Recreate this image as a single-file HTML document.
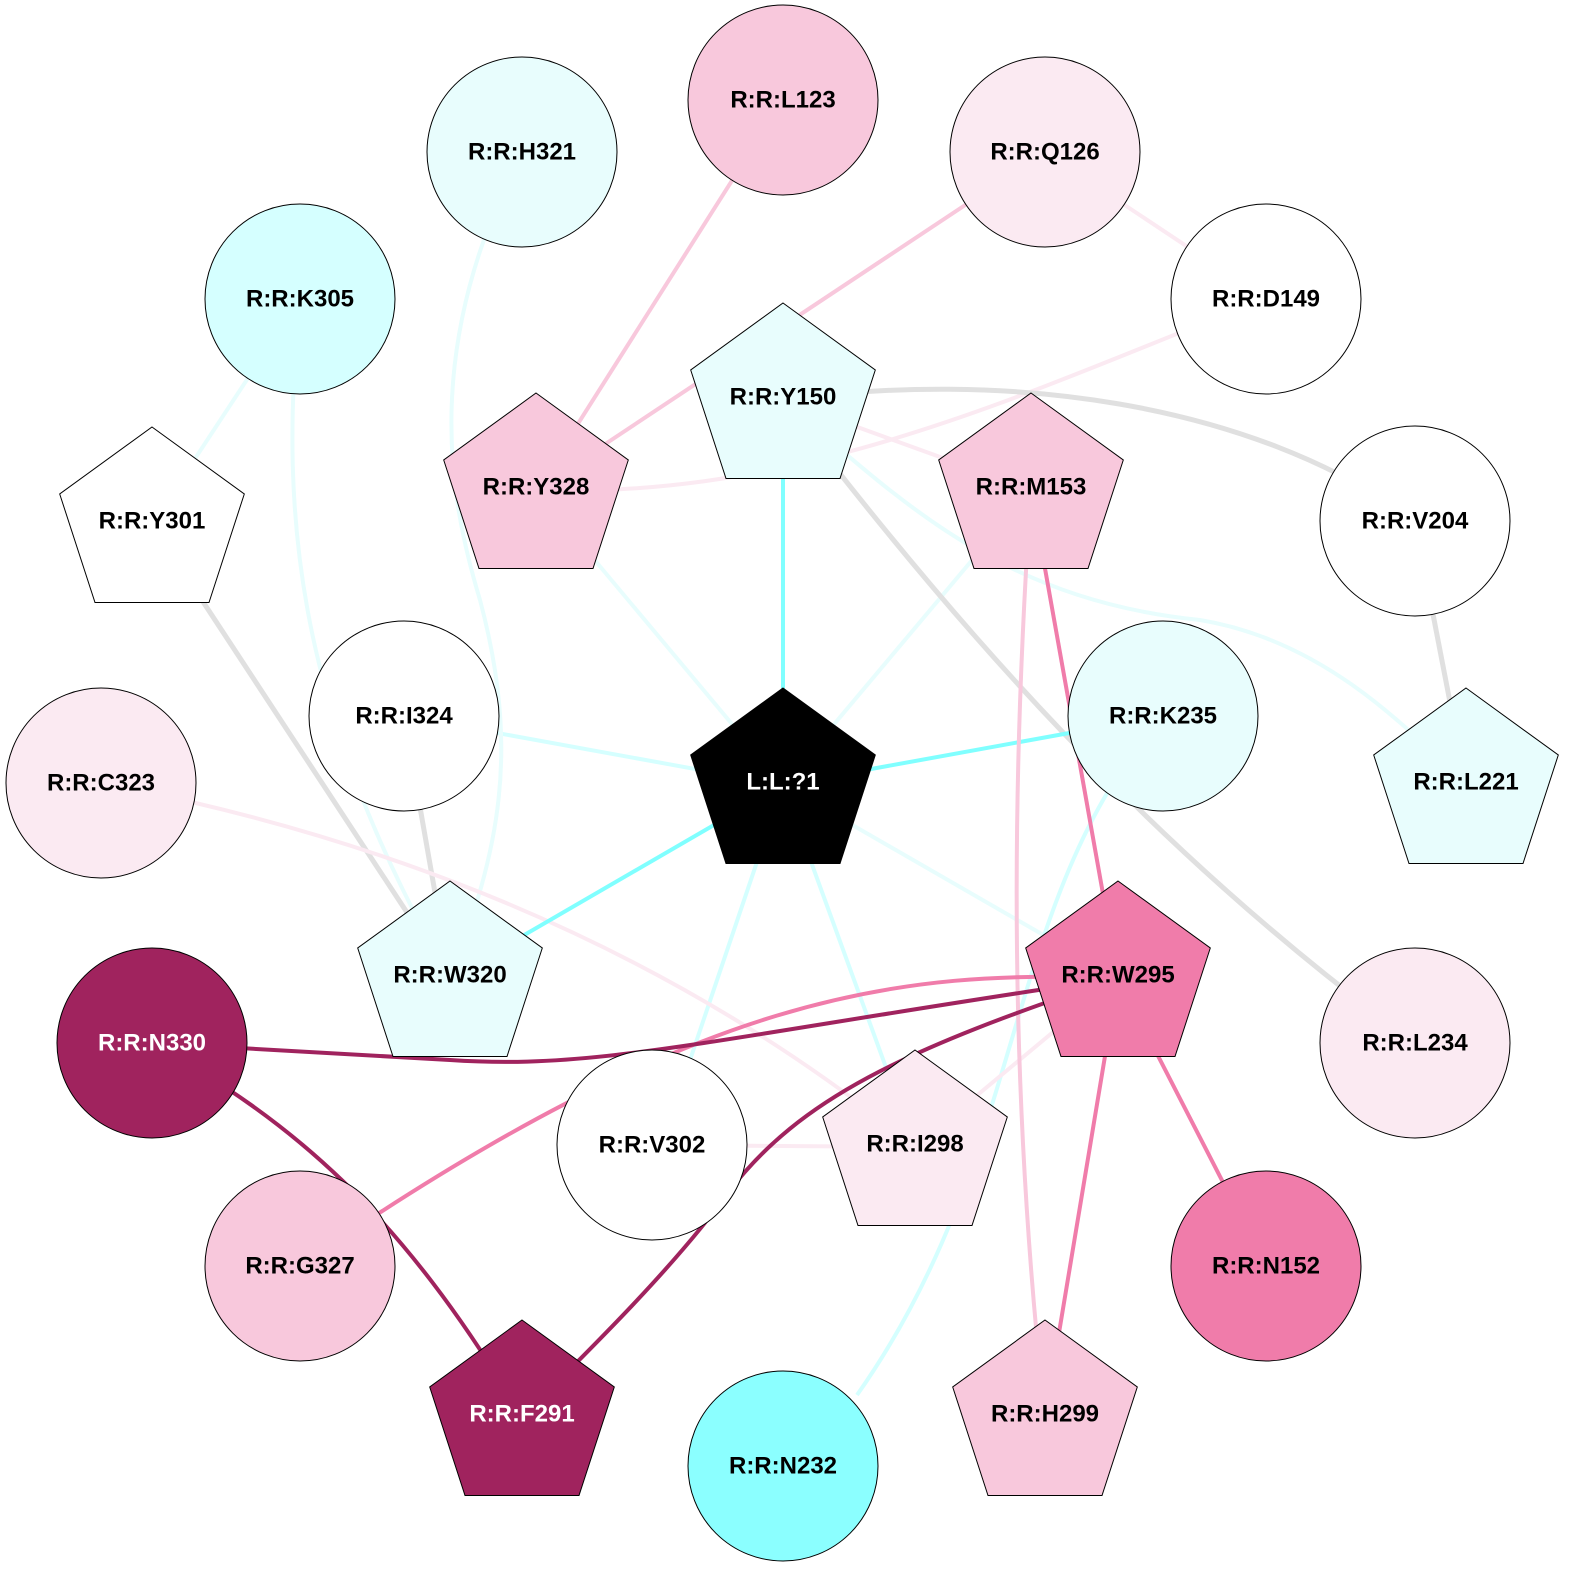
<!DOCTYPE html>
<html><head><meta charset="utf-8"><style>
html,body{margin:0;padding:0;background:#fff}
svg{display:block}
text{font-family:"Liberation Sans",Arial,sans-serif;font-weight:bold;font-size:24px;text-anchor:middle;dominant-baseline:central}
</style></head><body>
<svg width="1574" height="1574" viewBox="0 0 1574 1574" xmlns="http://www.w3.org/2000/svg">
<g fill="none" stroke-linecap="butt">
<path d="M783,785 L404,716" stroke="#d5ffff" stroke-width="4"/>
<path d="M783,785 L536,490" stroke="#e8fdfd" stroke-width="4"/>
<path d="M783,785 L1031,490" stroke="#e8fdfd" stroke-width="4"/>
<path d="M783,785 L1118,978" stroke="#e8fdfd" stroke-width="4"/>
<path d="M783,785 L690,1060" stroke="#d5ffff" stroke-width="4"/>
<path d="M783,785 L915,1147" stroke="#d5ffff" stroke-width="4"/>
<path d="M1045,152 L1266,299" stroke="#fbeaf2" stroke-width="4"/>
<path d="M1266,299 C1050,380 820,500 536,490" stroke="#fbeaf2" stroke-width="4"/>
<path d="M783,400 C1000,370 1250,400 1415,521" stroke="#e0e0e0" stroke-width="5"/>
<path d="M783,400 L1031,490" stroke="#fbeaf2" stroke-width="4"/>
<path d="M783,400 C950,620 1150,850 1415,1043" stroke="#e0e0e0" stroke-width="5"/>
<path d="M783,400 C900,500 1000,600 1200,620 C1320,640 1400,720 1466,785" stroke="#e8fdfd" stroke-width="4"/>
<path d="M1415,521 L1466,785" stroke="#e0e0e0" stroke-width="5"/>
<path d="M522,152 C420,350 450,500 480,600 C520,750 500,850 450,978" stroke="#e8fdfd" stroke-width="4"/>
<path d="M300,299 L152,524" stroke="#e8fdfd" stroke-width="4"/>
<path d="M300,299 C280,500 290,700 450,978" stroke="#e8fdfd" stroke-width="4"/>
<path d="M152,524 L450,978" stroke="#e0e0e0" stroke-width="5"/>
<path d="M404,716 L450,978" stroke="#e0e0e0" stroke-width="5"/>
<path d="M101,783 C350,830 650,930 915,1147" stroke="#fbeaf2" stroke-width="4"/>
<path d="M1163,716 C1000,900 1030,1150 857,1395" stroke="#d5ffff" stroke-width="4"/>
<path d="M1118,978 L915,1147" stroke="#fbeaf2" stroke-width="4"/>
<path d="M652,1145 L915,1147" stroke="#fbeaf2" stroke-width="4"/>
<path d="M783,400 L783,785" stroke="#80ffff" stroke-width="4"/>
<path d="M783,785 L1163,716" stroke="#80ffff" stroke-width="4"/>
<path d="M783,785 L450,978" stroke="#80ffff" stroke-width="4"/>
<path d="M783,100 L536,490" stroke="#f8c8dc" stroke-width="4"/>
<path d="M1045,152 L536,490" stroke="#f8c8dc" stroke-width="4"/>
<path d="M1031,490 C1010,800 1010,1100 1045,1417" stroke="#f8c8dc" stroke-width="4"/>
<path d="M1031,490 L1118,978" stroke="#f07caa" stroke-width="4"/>
<path d="M1118,978 C900,970 700,990 300,1266" stroke="#f07caa" stroke-width="4"/>
<path d="M1118,978 L1266,1266" stroke="#f07caa" stroke-width="4"/>
<path d="M1118,978 L1045,1417" stroke="#f07caa" stroke-width="4"/>
<path d="M1118,978 C700,1040 600,1070 450,1060 L152,1043" stroke="#a0235e" stroke-width="4"/>
<path d="M1118,978 C900,1050 800,1100 730,1190 C680,1260 600,1340 522,1417" stroke="#a0235e" stroke-width="4"/>
<path d="M152,1043 C290,1120 400,1210 522,1417" stroke="#a0235e" stroke-width="4"/>
</g>
<g stroke="#000" stroke-width="1">
<circle cx="522" cy="152" r="95" fill="#e8fdfd"/>
<circle cx="783" cy="100" r="95" fill="#f8c8dc"/>
<circle cx="1045" cy="152" r="95" fill="#fbeaf2"/>
<circle cx="1266" cy="299" r="95" fill="#fff"/>
<circle cx="300" cy="299" r="95" fill="#d5ffff"/>
<circle cx="1415" cy="521" r="95" fill="#fff"/>
<circle cx="404" cy="716" r="95" fill="#fff"/>
<circle cx="1163" cy="716" r="95" fill="#e8fdfd"/>
<circle cx="101" cy="783" r="95" fill="#fbeaf2"/>
<circle cx="1415" cy="1043" r="95" fill="#fbeaf2"/>
<circle cx="152" cy="1043" r="95" fill="#a0235e"/>
<circle cx="652" cy="1145" r="95" fill="#fff"/>
<circle cx="300" cy="1266" r="95" fill="#f8c8dc"/>
<circle cx="1266" cy="1266" r="95" fill="#f07caa"/>
<circle cx="783" cy="1466" r="95" fill="#8bffff"/>
</g>
<defs><polygon id="pg" points="0,-97 92.3,-30 57,78.5 -57,78.5 -92.3,-30"/></defs>
<g stroke="#000" stroke-width="1">
<use href="#pg" x="783" y="400" fill="#e8fdfd"/>
<use href="#pg" x="536" y="490" fill="#f8c8dc"/>
<use href="#pg" x="1031" y="490" fill="#f8c8dc"/>
<use href="#pg" x="152" y="524" fill="#fff"/>
<use href="#pg" x="1466" y="785" fill="#e8fdfd"/>
<use href="#pg" x="783" y="785" fill="#000"/>
<use href="#pg" x="450" y="978" fill="#e8fdfd"/>
<use href="#pg" x="1118" y="978" fill="#f07caa"/>
<use href="#pg" x="915" y="1147" fill="#fbeaf2"/>
<use href="#pg" x="522" y="1417" fill="#a0235e"/>
<use href="#pg" x="1045" y="1417" fill="#f8c8dc"/>
</g>
<g fill="#000">
<text x="522" y="152">R:R:H321</text>
<text x="783" y="100">R:R:L123</text>
<text x="1045" y="152">R:R:Q126</text>
<text x="1266" y="299">R:R:D149</text>
<text x="300" y="299">R:R:K305</text>
<text x="1415" y="521">R:R:V204</text>
<text x="404" y="716">R:R:I324</text>
<text x="1163" y="716">R:R:K235</text>
<text x="101" y="783">R:R:C323</text>
<text x="1415" y="1043">R:R:L234</text>
<text x="152" y="1043" fill="#fff">R:R:N330</text>
<text x="652" y="1145">R:R:V302</text>
<text x="300" y="1266">R:R:G327</text>
<text x="1266" y="1266">R:R:N152</text>
<text x="783" y="1466">R:R:N232</text>
<text x="783" y="397">R:R:Y150</text>
<text x="536" y="487">R:R:Y328</text>
<text x="1031" y="487">R:R:M153</text>
<text x="152" y="521">R:R:Y301</text>
<text x="1466" y="782">R:R:L221</text>
<text x="783" y="782" fill="#fff">L:L:?1</text>
<text x="450" y="975">R:R:W320</text>
<text x="1118" y="975">R:R:W295</text>
<text x="915" y="1144">R:R:I298</text>
<text x="522" y="1414" fill="#fff">R:R:F291</text>
<text x="1045" y="1414">R:R:H299</text>
</g>
</svg>
</body></html>
